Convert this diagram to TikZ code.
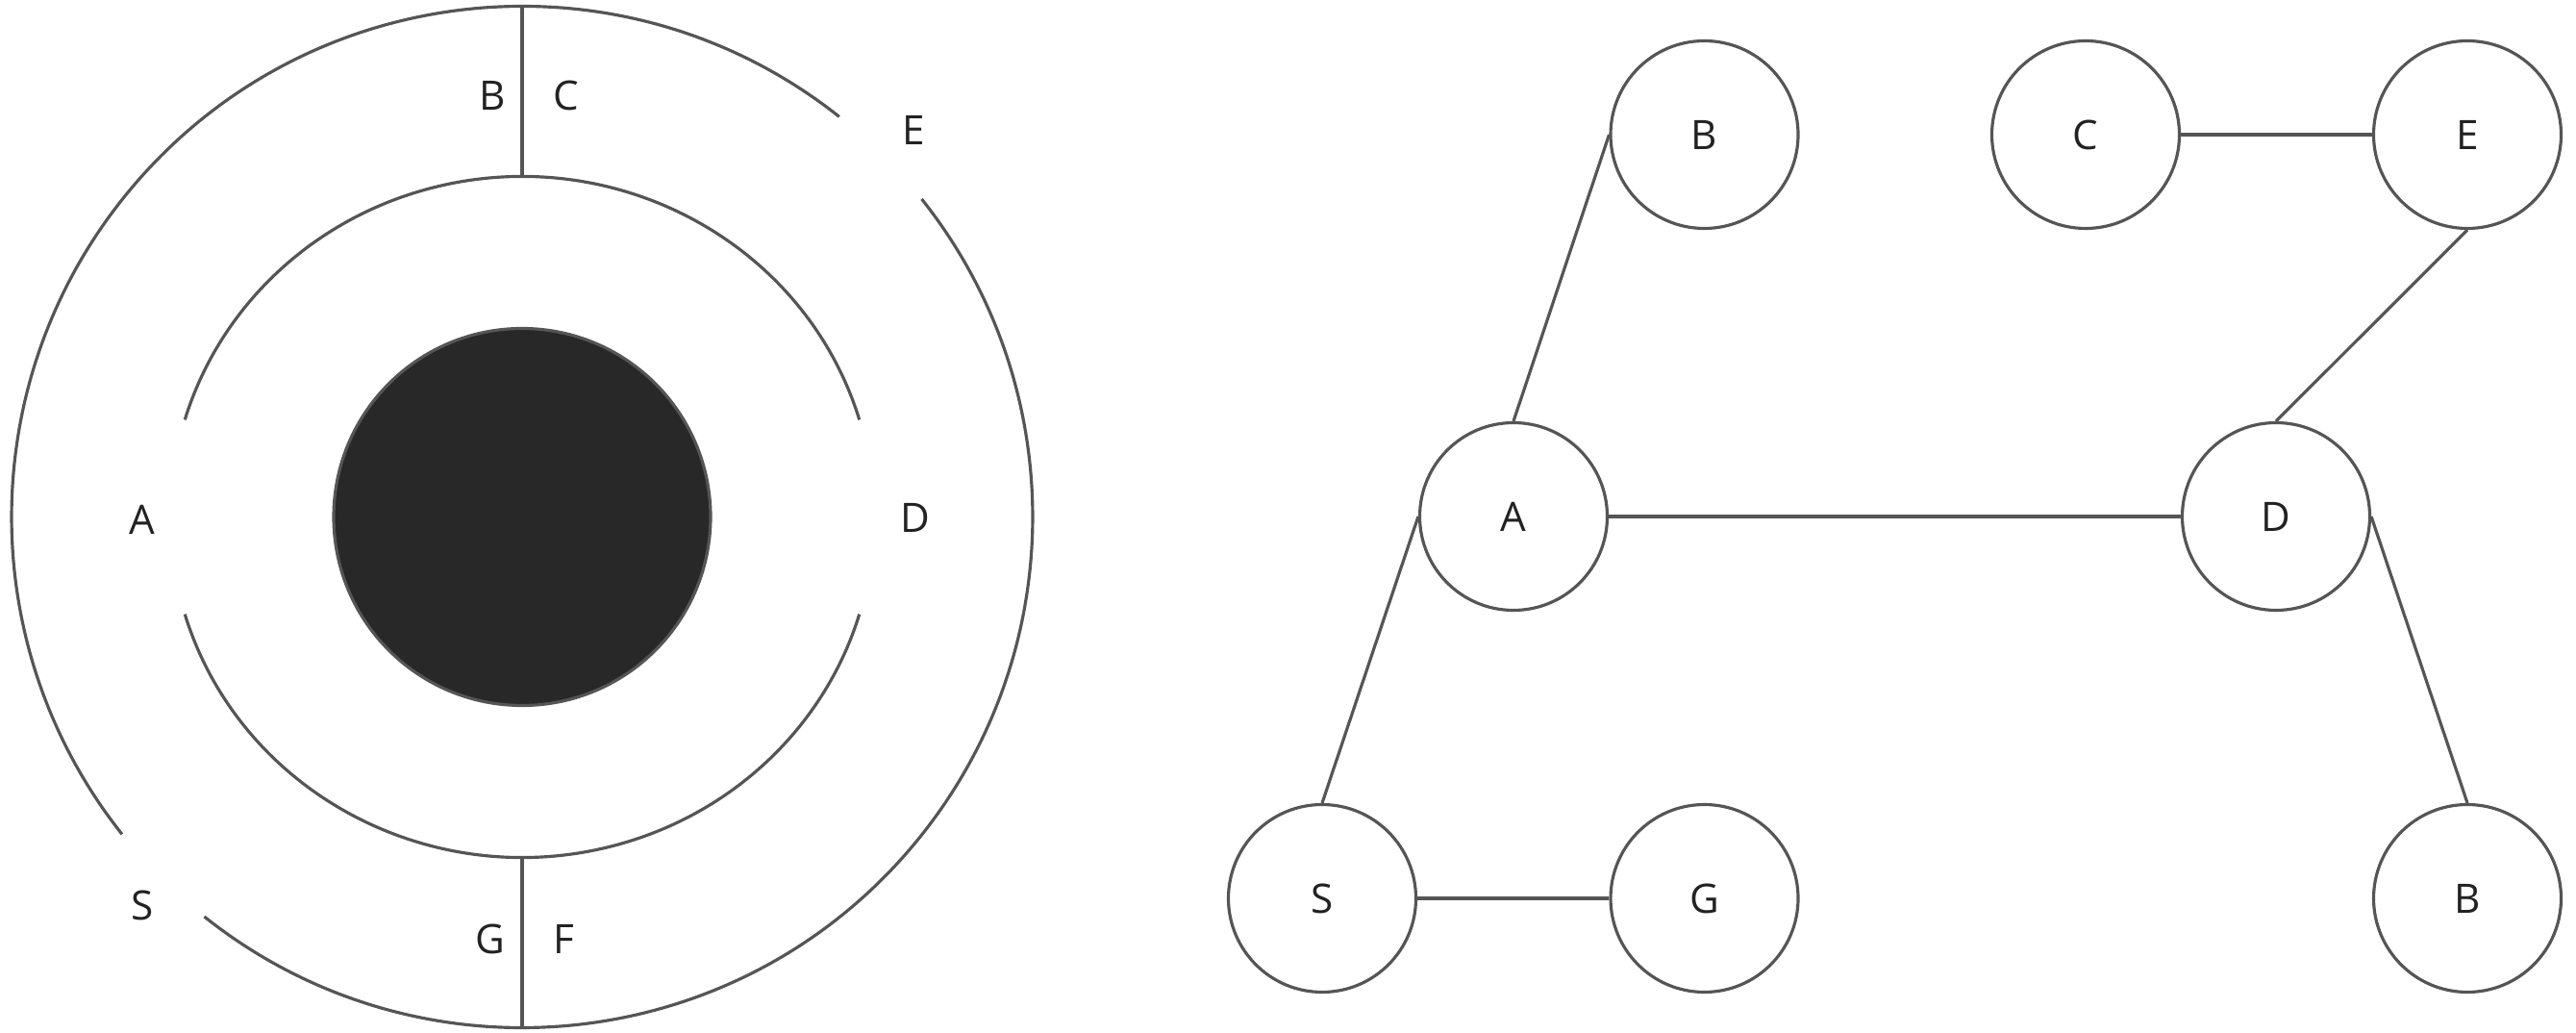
\documentclass[tikz,border=0pt]{standalone}
\usepackage{fontspec}
\setmainfont{Open Sans}
\usepackage{xcolor}
\usepackage{tikz}
\usetikzlibrary{positioning}
\definecolor{linegray}{HTML}{555555}
\definecolor{inkdark}{HTML}{222222}
\definecolor{discfill}{HTML}{282828}

\begin{document}
\begin{tikzpicture}[
    vertex/.style={circle, draw=linegray, line width=0.9pt, minimum size=1.95cm,
      inner sep=0pt, text=inkdark, font=\fontsize{12}{14}\selectfont},
    edge/.style={draw=linegray, line width=0.9pt},
    ring/.style={draw=linegray, line width=0.9pt},
    lbl/.style={text=inkdark, inner sep=0pt, font=\fontsize{12}{14}\selectfont},
    node distance=3.97cm and 1.985cm, on grid
]
\useasboundingbox (0,0) rectangle (26.79,10.74);

% left: rings round the disc
\coordinate (o) at (5.43,5.365);
\draw[ring] (o) ++(51.6:5.31) arc[start angle=51.6, end angle=218.4, radius=5.31];
\draw[ring] (o) ++(231.5:5.31) arc[start angle=231.5, end angle=398.5, radius=5.31];
\draw[ring] (o) ++(16.6:3.66 and 3.54) arc[start angle=16.6, end angle=163.4, x radius=3.66, y radius=3.54];
\draw[ring] (o) ++(196.6:3.66 and 3.54) arc[start angle=196.6, end angle=343.4, x radius=3.66, y radius=3.54];
\draw[ring, fill=discfill] (o) circle[radius=1.96];
\draw[ring] ([yshift=5.31cm]o) -- ([yshift=3.54cm]o);
\draw[ring] ([yshift=-3.54cm]o) -- ([yshift=-5.31cm]o);

\node[lbl] (lb) at (5.117,9.747) {B};
\node[lbl] (lc) at (5.883,9.747) {C};
\node[lbl] (le) at (9.50,9.39)   {E};
\node[lbl] (la) at (1.48,5.34)   {A};
\node[lbl] (ld) at (9.52,5.36)   {D};
\node[lbl] (ls) at (1.48,1.33)   {S};
\node[lbl] (lg) at (5.10,0.98)   {G};
\node[lbl] (lf) at (5.867,0.98)  {F};

% right: graph
\node[vertex] (a) at (15.74,5.37) {A};
\node[vertex, right=7.93cm of a] (d) {D};
\node[vertex, above right=of a] (b1) {B};
\node[vertex, below left=3.97cm and 1.99cm of a] (s) {S};
\node[vertex, right=3.975cm of s] (g) {G};
\node[vertex, above right=3.97cm and 1.99cm of d] (e) {E};
\node[vertex, left=3.97cm of e] (c) {C};
\node[vertex, below right=3.97cm and 1.99cm of d] (b2) {B};

\draw[edge] (a.north) -- (b1.west);
\draw[edge] (a.east)  -- (d.west);
\draw[edge] (a.west)  -- (s.north);
\draw[edge] (s.east)  -- (g.west);
\draw[edge] (c.east)  -- (e.west);
\draw[edge] (e.south) -- (d.north);
\draw[edge] (d.east)  -- (b2.north);
\end{tikzpicture}
\end{document}
